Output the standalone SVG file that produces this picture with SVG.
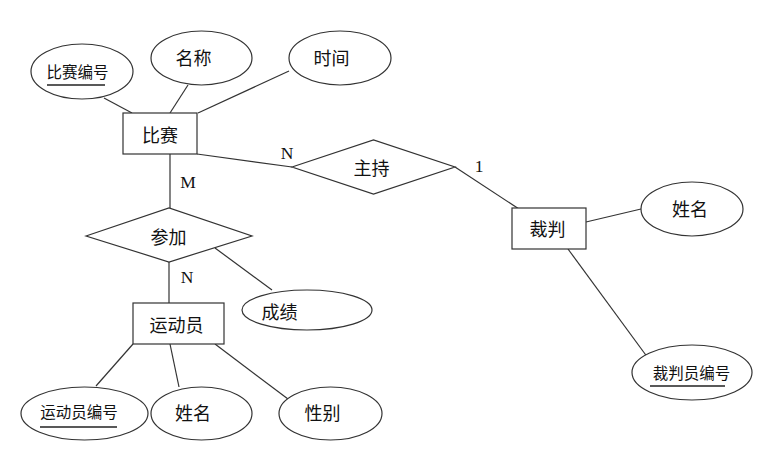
<svg xmlns="http://www.w3.org/2000/svg" width="757" height="454" viewBox="0 0 757 454">
<style>
.s{fill:#fff;stroke:#333;stroke-width:1.2}
.l{stroke:#333;stroke-width:1.2;fill:none}
.t{font-family:"Noto Sans CJK SC","Liberation Sans",sans-serif;font-size:18px;text-anchor:middle;dominant-baseline:central;fill:#111}
.ts{font-size:15.5px}
.c{font-family:"Liberation Serif",serif;font-size:17.5px;text-anchor:middle;dominant-baseline:central;fill:#111}
.u{stroke:#222;stroke-width:1.5}
</style>
<rect width="757" height="454" fill="#fff"/>
<g id="connectors">
<line class="l" x1="104" y1="98" x2="132" y2="113"/>
<line class="l" x1="188" y1="85" x2="170" y2="113"/>
<line class="l" x1="289" y1="71" x2="198" y2="113"/>
<line class="l" x1="197" y1="154" x2="292" y2="167"/>
<line class="l" x1="455" y1="167" x2="519" y2="209"/>
<line class="l" x1="170" y1="154" x2="170" y2="208"/>
<line class="l" x1="169" y1="262" x2="169" y2="303"/>
<line class="l" x1="215" y1="248" x2="272" y2="290"/>
<line class="l" x1="133" y1="344" x2="96" y2="386"/>
<line class="l" x1="170" y1="344" x2="179" y2="387"/>
<line class="l" x1="215" y1="344" x2="288" y2="399"/>
<line class="l" x1="586" y1="222" x2="641" y2="209"/>
<line class="l" x1="568" y1="249" x2="648" y2="358"/>
<text class="c" x="287" y="153">N</text>
<text class="c" x="188" y="182">M</text>
<text class="c" x="187" y="277">N</text>
<text class="c" x="479" y="166">1</text>
</g>
<g id="bisai">
<rect class="s" x="123" y="113" width="74" height="41"/>
<text class="t" x="160" y="134">比赛</text>
</g>
<g id="bisai-bianhao">
<ellipse class="s" cx="82" cy="71.5" rx="51" ry="27.5"/>
<text class="t ts" x="77.5" y="71">比赛编号</text>
<line class="u" x1="47" y1="85" x2="105" y2="85"/>
</g>
<g id="mingcheng">
<ellipse class="s" cx="201.5" cy="58" rx="50.5" ry="27"/>
<text class="t" x="193.5" y="57">名称</text>
</g>
<g id="shijian">
<ellipse class="s" cx="340" cy="58" rx="51" ry="27"/>
<text class="t" x="331.5" y="57">时间</text>
</g>
<g id="zhuchi">
<polygon class="s" points="292,167 373.5,140 455,167 373.5,194"/>
<text class="t" x="371.5" y="167">主持</text>
</g>
<g id="caipan">
<rect class="s" x="512" y="208" width="74" height="41"/>
<text class="t" x="547.5" y="228">裁判</text>
</g>
<g id="caipan-xingming">
<ellipse class="s" cx="692" cy="209" rx="51" ry="27"/>
<text class="t" x="690" y="208">姓名</text>
</g>
<g id="caipanyuan-bianhao">
<ellipse class="s" cx="692" cy="372.5" rx="60" ry="27.5"/>
<text class="t ts" x="691.5" y="372">裁判员编号</text>
<line class="u" x1="650" y1="386" x2="725" y2="386"/>
</g>
<g id="canjia">
<polygon class="s" points="86,236 169,208 252,236 169,262"/>
<text class="t" x="168.5" y="236">参加</text>
</g>
<g id="chengji">
<ellipse class="s" cx="307" cy="310" rx="65" ry="20"/>
<text class="t" x="279.5" y="311">成绩</text>
</g>
<g id="yundongyuan">
<rect class="s" x="133" y="303" width="91" height="41"/>
<text class="t" x="176.5" y="324">运动员</text>
</g>
<g id="yundongyuan-bianhao">
<ellipse class="s" cx="84.5" cy="413.5" rx="63.5" ry="26.5"/>
<text class="t ts" x="79" y="411">运动员编号</text>
<line class="u" x1="40" y1="427" x2="117" y2="427"/>
</g>
<g id="xingming">
<ellipse class="s" cx="201.5" cy="413.5" rx="50.5" ry="26.5"/>
<text class="t" x="193" y="412">姓名</text>
</g>
<g id="xingbie">
<ellipse class="s" cx="330.5" cy="413.5" rx="51.5" ry="26.5"/>
<text class="t" x="322.5" y="412">性别</text>
</g>
</svg>
